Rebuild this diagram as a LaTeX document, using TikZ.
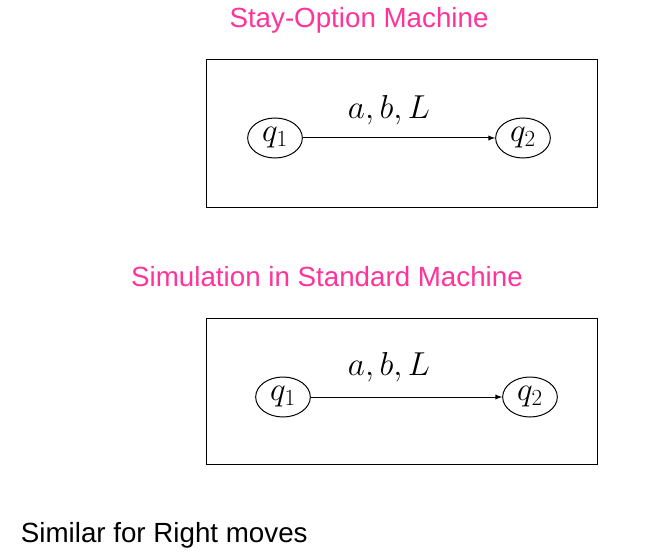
\documentclass[tikz,border=0pt]{standalone}
\usepackage{fontspec}
\setsansfont{Liberation Sans}
\usetikzlibrary{shapes.geometric}
\definecolor{titlepink}{RGB}{255,51,153}
\tikzset{every picture/.style={line width=0.75pt}}
\tikzset{
  heading/.style={font=\sffamily\fontsize{20.8}{24}\selectfont, text=titlepink},
  stateq/.style={draw, ellipse, minimum width=41pt, minimum height=30pt, inner sep=0pt, font=\fontsize{27}{30}\selectfont},
  edgelbl/.style={font=\fontsize{23}{26}\selectfont},
}
\begin{document}
\begin{tikzpicture}[x=0.75pt,y=0.75pt,yscale=-1,xscale=1]
\useasboundingbox (0,0) rectangle (668,560);

% Stay-option machine
\node[heading] (title1) at (359,20) {Stay-Option Machine};
\draw (206,60) rectangle (597,207);
\node[stateq] (q1a) at (275,138) {$q_1$};
\node[stateq] (q2a) at (523,138) {$q_2$};
\draw[-latex] (q1a) -- (q2a);
\node[edgelbl] (lbla) at (389,110) {$a,b,L$};

% Simulation
\node[heading] (title2) at (327,277) {Simulation in Standard Machine};
\draw (206,318) rectangle (597,464);
\node[stateq] (q1b) at (283,397) {$q_1$};
\node[stateq] (q2b) at (530,397) {$q_2$};
\draw[-latex] (q1b) -- (q2b);
\node[edgelbl] (lblb) at (389,367) {$a,b,L$};

% Text Node
\node[anchor=west, font=\sffamily\fontsize{20.8}{24}\selectfont] (note) at (16,535) {Similar for Right moves};
\end{tikzpicture}
\end{document}
